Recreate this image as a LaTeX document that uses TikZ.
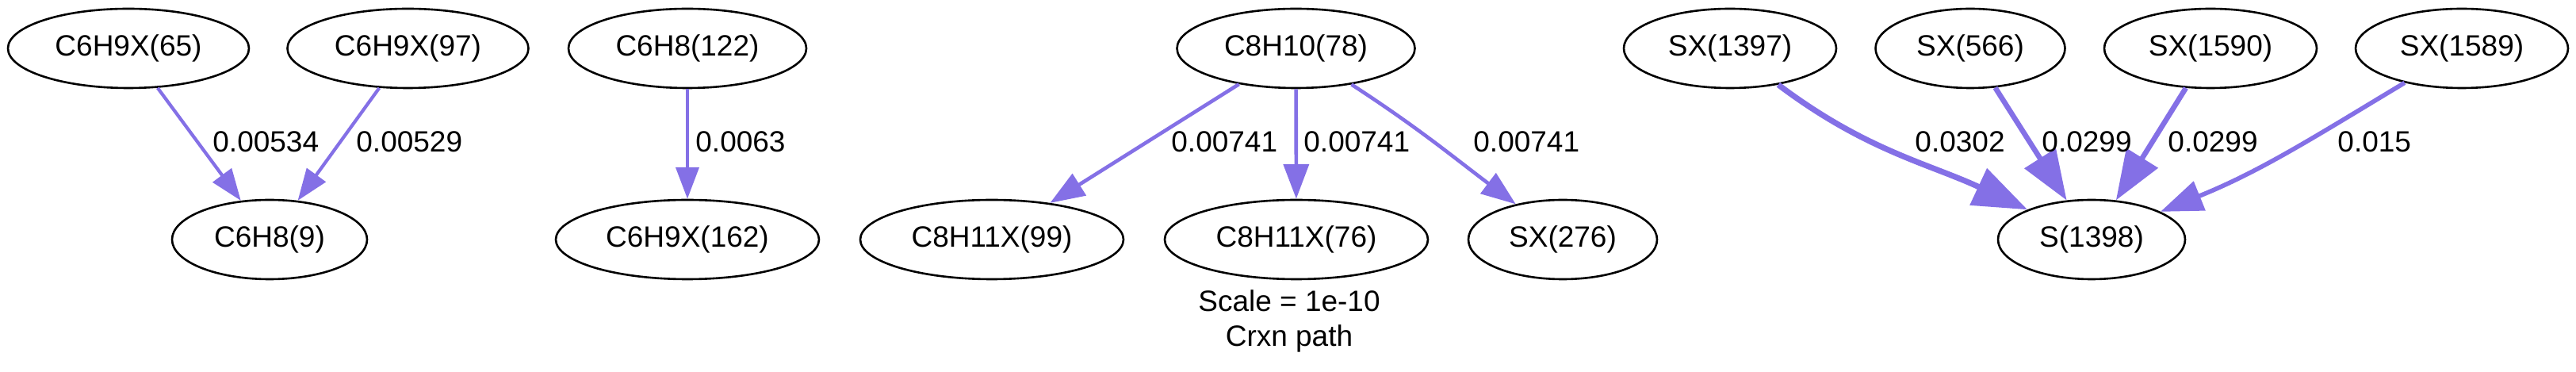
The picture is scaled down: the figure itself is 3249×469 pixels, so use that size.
\documentclass[tikz,border=0pt]{standalone}
\usepackage{fontspec}
\setmainfont{Liberation Sans}
\usepackage{xcolor}
\usetikzlibrary{shapes.geometric,arrows.meta}
\definecolor{fluxcol}{HTML}{8470E6}

\begin{document}
\begin{tikzpicture}[x=0.5pt,y=-0.5pt,font=\fontsize{18.5}{22}\selectfont]
                \tikzstyle{species}=[ellipse,draw,line width=1.3pt,inner sep=0pt,minimum height=50pt]
                \tikzstyle{flux}=[draw=fluxcol,-{Triangle[length=0pt 9.5,width=0pt 6.9]}]
                \tikzstyle{rate}=[anchor=west,inner sep=0pt]
                \useasboundingbox (0,0) rectangle (3249,469);
                \node(c65)[species,minimum width=152pt] at (162,61) {C6H9X(65)};
                \node(c97)[species,minimum width=152pt] at (514.5,61) {C6H9X(97)};
                \node(c122)[species,minimum width=150pt] at (867,61) {C6H8(122)};
                \node(c78)[species,minimum width=150pt] at (1634.5,61) {C8H10(78)};
                \node(sx1397)[species,minimum width=134pt] at (2182,61) {SX(1397)};
                \node(sx566)[species,minimum width=119.5pt] at (2485,61) {SX(566)};
                \node(sx1590)[species,minimum width=134pt] at (2788,61) {SX(1590)};
                \node(sx1589)[species,minimum width=134pt] at (3105,61) {SX(1589)};
                \node(c9)[species,minimum width=123pt] at (340,302) {C6H8(9)};
                \node(c162)[species,minimum width=166pt] at (867,302) {C6H9X(162)};
                \node(c99)[species,minimum width=166pt] at (1251,302) {C8H11X(99)};
                \node(c76)[species,minimum width=166pt] at (1635,302) {C8H11X(76)};
                \node(sx276)[species,minimum width=119pt] at (1971,302) {SX(276)};
                \node(s1398)[species,minimum width=118pt] at (2638,302) {S(1398)};
                \draw[flux,line width=2.1pt] (c65) -- (c9);
                \draw[flux,line width=2.1pt] (c97) -- (c9);
                \draw[flux,line width=2.1pt] (c122) -- (c162);
                \draw[flux,line width=2.3pt] (c78) -- (c99);
                \draw[flux,line width=2.3pt] (c78) -- (c76);
                \draw[flux,line width=2.3pt] (c78) to[out=-33,in=143] (sx276);
                \draw[flux,line width=3.6pt] (sx1397) to[out=-37,in=155] (s1398);
                \draw[flux,line width=3.3pt] (sx566) -- (s1398);
                \draw[flux,line width=3.3pt] (sx1590) -- (s1398);
                \draw[flux,line width=2.8pt] (sx1589) to[out=-149,in=22] (s1398);
                \node(r534)[rate] at (268,179) {0.00534};
                \node(r529)[rate] at (449,179) {0.00529};
                \node(r63)[rate] at (877,179) {0.0063};
                \node(r741a)[rate] at (1477,179) {0.00741};
                \node(r741b)[rate] at (1644,179) {0.00741};
                \node(r741c)[rate] at (1858,179) {0.00741};
                \node(r302)[rate] at (2415,179) {0.0302};
                \node(r299a)[rate] at (2575,179) {0.0299};
                \node(r299b)[rate] at (2734,179) {0.0299};
                \node(r15)[rate] at (2948,179) {0.015};
                \node(scale)[align=center] at (1626,405) {Scale = 1e-10\\Crxn path};
            \end{tikzpicture}
\end{document}
